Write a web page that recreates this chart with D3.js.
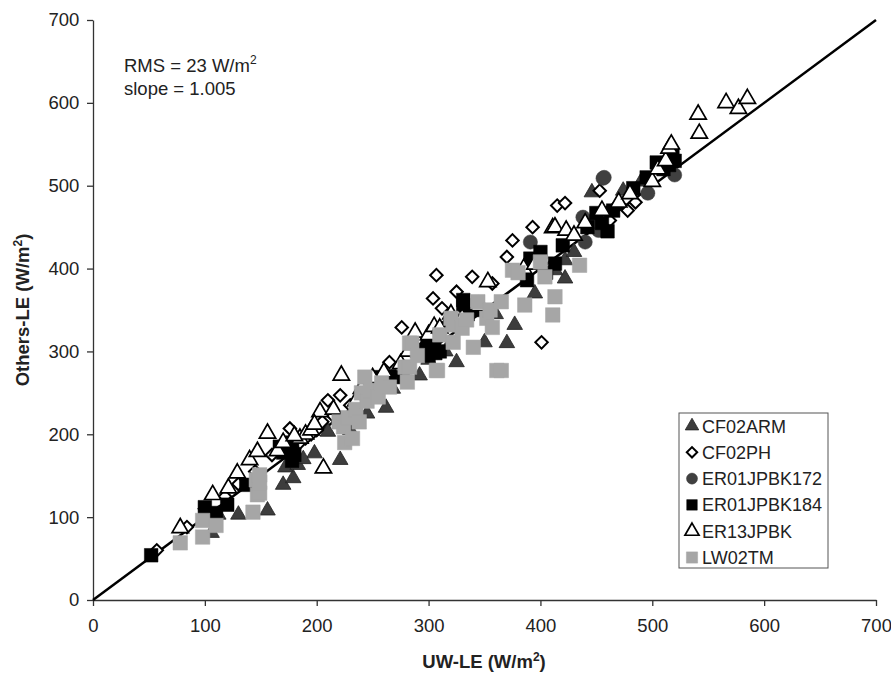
<!DOCTYPE html>
<html>
<head>
<meta charset="utf-8">
<script src="https://cdn.jsdelivr.net/npm/d3@7"></script>
<style>
  body { margin: 0; background: #fff; }
  svg { font-family: "Liberation Sans", Arial, sans-serif; }
</style>
</head>
<body>
<svg id="chart" width="891" height="680"></svg>
<script>
// dati (UW-LE, Others-LE) in W/m2
const cf02arm = [[106,81],[112,103],[130,103],[156,108],[170,139],[179,147],[172,160],[183,163],[198,177],[210,203],[221,169],
  [230,205],[245,225],[262,232],[292,271],[300,290],[325,287],[350,311],[370,310],[377,332],[395,370],[422,388],[422,410],
  [446,492],[474,494],[413,398],[360,345],[430,420],[490,505],[188,170],[268,255],[315,300]];
const cf02ph = [[57,60],[84,88],[100,110],[118,125],[130,140],[145,155],[160,175],[170,185],[176,207],[185,190],[190,195],
  [195,200],[200,205],[210,241],[221,247],[230,235],[240,250],[250,262],[265,287],[276,329],[285,300],[295,305],[304,364],
  [307,392],[312,352],[325,372],[330,340],[339,390],[345,355],[357,382],[370,414],[375,434],[393,450],[401,311],[415,476],
  [422,479],[453,494],[460,468],[462,458],[470,478],[478,470],[485,480],[205,215],[215,222],[258,270],[318,335]];
const er01jpbk172 = [[391,432],[440,432],[438,462],[448,455],[456,509],[457,510],[496,491],[520,513],[452,446]];
const er01jpbk184 = [[52,54],[100,112],[110,105],[120,115],[137,139],[167,185],[173,185],[175,180],[178,190],[180,175],
  [256,269],[260,262],[265,270],[277,269],[297,302],[299,310],[300,295],[305,305],[306,298],[310,300],[331,362],[331,356],
  [335,345],[345,350],[388,386],[391,412],[400,420],[405,395],[413,406],[420,428],[442,450],[450,467],[455,455],[460,445],
  [465,470],[483,497],[495,510],[504,528],[510,520],[515,525],[518,537],[520,530],[170,178],[178,168]];
const er13jpbk = [[78,87],[107,127],[121,135],[129,153],[140,169],[147,179],[156,201],[165,180],[170,190],[185,195],
  [190,200],[195,205],[203,227],[206,159],[222,271],[235,240],[240,255],[260,275],[275,285],[288,323],[300,320],[305,330],
  [320,345],[330,340],[345,355],[353,384],[385,400],[395,405],[411,449],[413,450],[423,446],[430,440],[440,455],[455,470],
  [470,480],[480,490],[500,505],[505,520],[512,530],[515,545],[517,550],[541,586],[542,563],[566,600],[577,593],[585,605],
  [180,198],[198,212],[215,230],[250,268],[282,300],[310,328]];
const lw02tm = [[78,69],[98,96],[98,76],[110,90],[143,106],[146,145],[147,127],[149,129],[149,142],[149,151],[220,215],
  [224,209],[225,190],[228,220],[232,195],[235,230],[238,215],[240,250],[243,269],[245,240],[248,253],[255,245],[258,262],
  [265,257],[279,281],[281,263],[283,281],[283,310],[285,310],[290,295],[307,277],[308,277],[310,320],[320,340],[322,311],
  [322,332],[330,328],[334,338],[340,305],[344,360],[352,340],[355,350],[357,329],[361,277],[365,277],[365,360],[375,398],
  [380,395],[386,356],[400,408],[404,390],[411,344],[413,366],[435,404]];

const seriesNames = ["CF02ARM", "CF02PH", "ER01JPBK172", "ER01JPBK184", "ER13JPBK", "LW02TM"];
const seriesData = [cf02arm, cf02ph, er01jpbk172, er01jpbk184, er13jpbk, lw02tm];
const axisTicks = [0, 100, 200, 300, 400, 500, 600, 700];

const svg = d3.select("#chart");
const margLeft = 93, margRight = 876, margTop = 20, margBottom = 600;

const x = d3.scaleLinear().domain([0, 700]).range([margLeft, margRight]);
const y = d3.scaleLinear().domain([0, 700]).range([margBottom, margTop]);

// stile dei marker per serie (rot = rotazione in gradi)
const stili = [
  { sym: d3.symbolTriangle, size: 105, fill: "#3d3d3d", stroke: "#222", sw: 0.8, rot: 0 },
  { sym: d3.symbolSquare, size: 78, fill: "#fff", stroke: "#000", sw: 2, rot: 45 },
  { sym: d3.symbolCircle, size: 160, fill: "#404040", stroke: "#404040", sw: 0.5, rot: 0 },
  { sym: d3.symbolSquare, size: 185, fill: "#000", stroke: "#000", sw: 0.5, rot: 0 },
  { sym: d3.symbolTriangle, size: 115, fill: "#fff", stroke: "#000", sw: 1.7, rot: 0 },
  { sym: d3.symbolSquare, size: 210, fill: "#a6a6a6", stroke: "#a6a6a6", sw: 0.5, rot: 0 }
];

// assi
const xAxis = d3.axisBottom(x).tickValues(axisTicks).tickSize(6).tickSizeOuter(0);
const yAxis = d3.axisLeft(y).tickValues(axisTicks).tickSize(6).tickSizeOuter(0);

const gx = svg.append("g").attr("transform", `translate(0,${margBottom})`).call(xAxis);
const gy = svg.append("g").attr("transform", `translate(${margLeft},0)`).call(yAxis);
[gx, gy].forEach(g => {
  g.select(".domain").attr("stroke", "#333").attr("stroke-width", 1.3);
  g.selectAll(".tick line").attr("stroke", "#333").attr("stroke-width", 1.3);
  g.selectAll(".tick text").attr("font-size", 18.5).attr("fill", "#222")
    .attr("font-family", "Liberation Sans, Arial, sans-serif");
});
gx.selectAll(".tick text").attr("dy", "1.25em");
gy.selectAll(".tick text").attr("dx", "-0.25em");

// linea 1:1
svg.append("line")
  .attr("x1", x(0)).attr("y1", y(0))
  .attr("x2", x(700)).attr("y2", y(700))
  .attr("stroke", "#000").attr("stroke-width", 2.5);

// punti
seriesData.forEach((dati, i) => {
  const s = stili[i];
  svg.append("g").selectAll("path")
    .data(dati)
    .enter()
    .append("path")
    .attr("d", d3.symbol().type(s.sym).size(s.size))
    .attr("transform", d => `translate(${x(d[0])},${y(d[1])}) rotate(${s.rot})`)
    .attr("fill", s.fill)
    .attr("stroke", s.stroke)
    .attr("stroke-width", s.sw);
});

// titoli assi
const xl = svg.append("text").attr("x", 484).attr("y", 668)
  .attr("text-anchor", "middle").attr("font-size", 18.5).attr("font-weight", "bold").attr("fill", "#222");
xl.append("tspan").text("UW-LE (W/m");
xl.append("tspan").text("2").attr("font-size", 12).attr("dy", -7);
xl.append("tspan").text(")").attr("dy", 7);

const yl = svg.append("text").attr("transform", `translate(29,${(margTop + margBottom) / 2}) rotate(-90)`)
  .attr("text-anchor", "middle").attr("font-size", 18.5).attr("font-weight", "bold").attr("fill", "#222");
yl.append("tspan").text("Others-LE (W/m");
yl.append("tspan").text("2").attr("font-size", 12).attr("dy", -7);
yl.append("tspan").text(")").attr("dy", 7);

// annotazione
const rms = svg.append("text").attr("x", 124).attr("y", 72).attr("font-size", 18.5).attr("fill", "#222");
rms.append("tspan").text("RMS = 23 W/m");
rms.append("tspan").text("2").attr("font-size", 12).attr("dy", -8);
svg.append("text").attr("x", 124).attr("y", 95).attr("font-size", 18.5).attr("fill", "#222").text("slope = 1.005");

// legenda
const leg = svg.append("g").attr("transform", "translate(679,413)");
leg.append("rect").attr("width", 149).attr("height", 155)
  .attr("fill", "#fff").attr("stroke", "#555").attr("stroke-width", 1);
seriesNames.forEach((nome, i) => {
  const s = stili[i];
  const yy = 13 + i * 26.3;
  const scala = (i === 2 || i === 3 || i === 5) ? 0.6 : (i === 1 ? 0.7 : 0.75);
  leg.append("path")
    .attr("d", d3.symbol().type(s.sym).size(s.size * scala))
    .attr("transform", `translate(13,${yy}) rotate(${s.rot})`)
    .attr("fill", s.fill).attr("stroke", s.stroke).attr("stroke-width", s.sw);
  leg.append("text").attr("x", 23).attr("y", yy + 6.5)
    .attr("font-size", 18).attr("fill", "#222").text(nome);
});
</script>
</body>
</html>
